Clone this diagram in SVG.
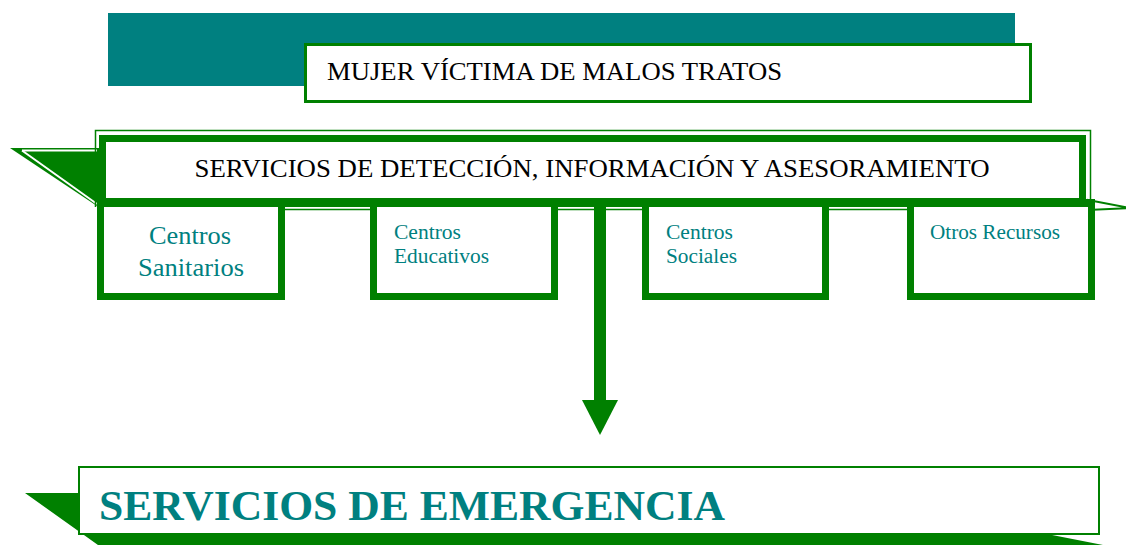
<svg xmlns="http://www.w3.org/2000/svg" width="1126" height="545" viewBox="0 0 1126 545">
<style>
.g{fill:#008000}
.frame{fill:#fff;stroke:#008000;stroke-width:7}
.thin{fill:none;stroke:#008000;stroke-width:1.5}
.lbl{font-family:"Liberation Serif","Times New Roman",serif;fill:#008080}
.blk{font-family:"Liberation Serif","Times New Roman",serif;fill:#000}
</style>
<rect width="1126" height="545" fill="#fff"/>
<g id="mujer">
<rect x="108" y="13" width="907" height="73" fill="#008080"/>
<rect x="305.5" y="44.5" width="725" height="57" fill="#fff" stroke="#008000" stroke-width="3"/>
<text class="blk" x="327" y="80" font-size="25.5" textLength="455" lengthAdjust="spacingAndGlyphs">MUJER VÍCTIMA DE MALOS TRATOS</text>
</g>
<g id="deteccion">
<polygon class="g" points="10,148 100,148 100,208"/>
<polyline points="22,150.5 97,150.5" fill="none" stroke="#fff" stroke-width="2"/>
<line x1="22" y1="150.5" x2="97" y2="204" stroke="#fff" stroke-width="2"/>
<polygon points="1088,200 1130,208 1088,210" fill="#fff" stroke="#008000" stroke-width="2"/>
<path class="thin" d="M95.5,207 V130.5 H1090.5 V200"/>
<rect class="frame" x="102.5" y="138.5" width="980" height="63"/>
<text class="blk" x="592" y="177" font-size="25" text-anchor="middle" textLength="795" lengthAdjust="spacingAndGlyphs">SERVICIOS DE DETECCIÓN, INFORMACIÓN Y ASESORAMIENTO</text>
</g>
<g id="connectors">
<rect class="g" x="97" y="199" width="998" height="8"/>
<line x1="97" y1="209.5" x2="1095" y2="209.5" stroke="#008000" stroke-width="1.5"/>
<rect class="g" x="594" y="205" width="12" height="196"/>
<polygon class="g" points="582,400 618,400 600,435"/>
</g>
<g id="sanitarios">
<rect class="frame" x="100.5" y="203.5" width="181" height="93"/>
<text class="lbl" x="149" y="244" font-size="25" textLength="82" lengthAdjust="spacingAndGlyphs">Centros</text>
<text class="lbl" x="138" y="276" font-size="25" textLength="106" lengthAdjust="spacingAndGlyphs">Sanitarios</text>
</g>
<g id="educativos">
<rect class="frame" x="373.5" y="203.5" width="181" height="93"/>
<text class="lbl" x="394" y="239" font-size="20" textLength="67" lengthAdjust="spacingAndGlyphs">Centros</text>
<text class="lbl" x="394" y="263" font-size="20" textLength="95" lengthAdjust="spacingAndGlyphs">Educativos</text>
</g>
<g id="sociales">
<rect class="frame" x="645.5" y="203.5" width="180" height="93"/>
<text class="lbl" x="666" y="239" font-size="20" textLength="67" lengthAdjust="spacingAndGlyphs">Centros</text>
<text class="lbl" x="666" y="263" font-size="20" textLength="71" lengthAdjust="spacingAndGlyphs">Sociales</text>
</g>
<g id="otros">
<rect class="frame" x="910.5" y="203.5" width="181" height="93"/>
<text class="lbl" x="930" y="239" font-size="20" textLength="130" lengthAdjust="spacingAndGlyphs">Otros Recursos</text>
</g>
<g id="emergencia">
<polygon class="g" points="25,493 90,493 90,534 1047,534 1103,545 98,545"/>
<rect x="79" y="467" width="1020" height="67" fill="#fff" stroke="#008000" stroke-width="2"/>
<text class="lbl" x="99" y="520" font-size="42" font-weight="bold" textLength="626" lengthAdjust="spacingAndGlyphs">SERVICIOS DE EMERGENCIA</text>
</g>
</svg>
